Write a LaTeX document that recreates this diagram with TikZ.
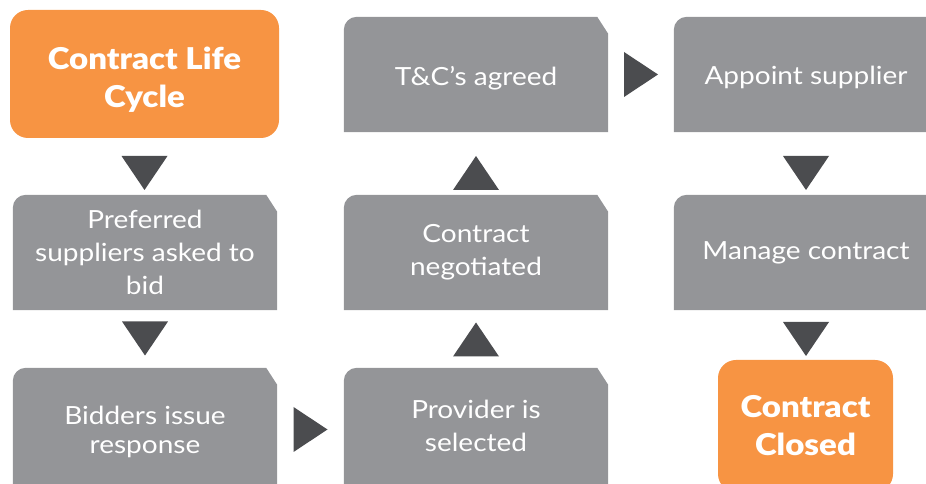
\documentclass[tikz,border=0pt]{standalone}
\usepackage{fontspec}
\newfontfamily\lightfont{Lato}[FakeStretch=1.12]
\newfontfamily\heavyfont{Lato Black}[FakeStretch=1.1]
\usetikzlibrary{backgrounds,calc}
\definecolor{orng}{HTML}{F79443}
\definecolor{gboxcol}{HTML}{949598}
\definecolor{arrcol}{HTML}{4B4C4F}
\newcommand\grayshape[1]{\fill[gboxcol] (#1.south west) -- ([yshift=-13pt]#1.north west) arc[start angle=180,end angle=90,radius=13pt] -- ([xshift=-11pt]#1.north east) -- ([yshift=-17pt]#1.north east) -- (#1.south east) -- cycle;}
\newcommand\lowertext[2]{\raisebox{-#1}[\height][\depth]{\begin{tabular}{@{}c@{}}#2\end{tabular}}}
\tikzset{
  gbox/.style={minimum width=264pt, minimum height=115pt, inner sep=0pt, text=white, align=center, font=\lightfont\fontsize{25}{33}\selectfont},
  obox/.style={fill=orng, rounded corners=18pt, inner sep=0pt, text=white, align=center, font=\heavyfont\fontsize{30}{38}\selectfont},
  tridown/.pic={\fill[arrcol] (-23,17) -- (23,17) -- (0,-17) -- cycle;},
  triup/.pic={\fill[arrcol] (-23,-17) -- (23,-17) -- (0,17) -- cycle;},
  triright/.pic={\fill[arrcol] (-17,22.5) -- (-17,-22.5) -- (17,0) -- cycle;}
}
\begin{document}
\begin{tikzpicture}[x=1pt,y=1pt]
\useasboundingbox (0,0) rectangle (926,484);
\node[obox, minimum width=269pt, minimum height=128pt] (o1) at (144.5,410) {\lowertext{7pt}{Contract Life\\Cycle}};
\node[gbox] (P) at (145,231.5) {Preferred\\suppliers asked to\\bid};
\node[gbox, minimum height=116pt] (B) at (145,58) {\lowertext{6pt}{Bidders issue\\[-4pt]response}};
\node[gbox] (T) at (476,409.5) {\lowertext{4pt}{T\&C’s agreed}};
\node[gbox] (N) at (476,231.5) {Contract\\negotiated};
\node[gbox, minimum height=116pt] (S) at (476,58) {Provider is\\selected};
\node[gbox] (A) at (806,409.5) {\lowertext{3pt}{Appoint supplier}};
\node[gbox] (M) at (806,231.5) {Manage contract};
\node[obox, minimum width=175pt, minimum height=132pt] (o2) at (805.5,58) {Contract\\Closed};
\begin{scope}[on background layer]
\foreach \n in {P,B,T,N,S,A,M} {\grayshape{\n}}
\end{scope}
% connectors
\pic at (o1.south |- 0,311) {tridown};
\pic at (P.south |- 0,145.5) {tridown};
\pic at ($(B.east)!0.5!(S.west) + (0,-3.5)$) {triright};
\pic at (S.north |- 0,144.5) {triup};
\pic at (N.north |- 0,311) {triup};
\pic at ($(T.east)!0.5!(A.west)$) {triright};
\pic at (A.south |- 0,311) {tridown};
\pic at (M.south |- 0,145) {tridown};
\end{tikzpicture}
\end{document}
